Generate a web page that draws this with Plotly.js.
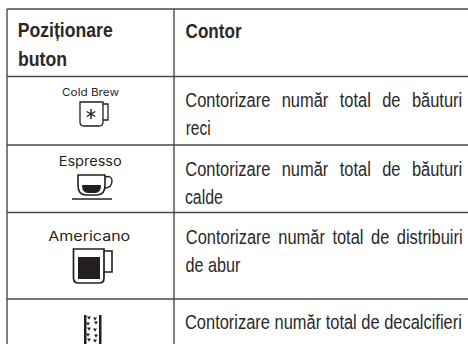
<!DOCTYPE html>
<html><head><meta charset="utf-8">
<script src="https://cdn.plot.ly/plotly-3.0.1.min.js"></script>
<style>html,body{margin:0;padding:0;background:#fff}#c{width:468px;height:344px}</style></head>
<body><div id="c"></div>
<script>
var headerLeft = ["Poziționare", "buton"];
var headerRight = ["Contor"];
var drinks = ["Cold Brew", "Espresso", "Americano"];
var counters = [
  ["Contorizare număr total de băuturi", "reci"],
  ["Contorizare număr total de băuturi", "calde"],
  ["Contorizare număr total de distribuiri", "de abur"],
  ["Contorizare număr total de decalcifieri"]
];

var INK = "#2a2829", RULE = "#4a4a4a", ICON = "#231f20";
var BODY = "Liberation Sans", LABEL = "Inter";
var rowY = [9, 76.5, 145, 212.5, 299];
var colX = [7, 174];
var ann = [], shapes = [], fits = [];

function text(t, x, w, base, size, font, color, bold, justify) {
  fits.push({w: w, justify: !!justify});
  ann.push({xref: "x", yref: "y", x: x + w / 2, y: base, text: bold ? "<b>" + t + "</b>" : t,
    showarrow: false, xanchor: "center", yanchor: "bottom", borderpad: 0,
    font: {family: font, size: size, color: color}, yshift: -Math.round(size * 0.22)});
}
function line(x0, y0, x1, y1) {
  shapes.push({type: "line", xref: "x", yref: "y", x0: x0, y0: y0, x1: x1, y1: y1,
    line: {color: RULE, width: 1.4}});
}
function path(d, fill, lw) {
  shapes.push({type: "path", xref: "x", yref: "y", path: d,
    fillcolor: fill || "rgba(0,0,0,0)", line: {color: ICON, width: lw === undefined ? 1.1 : lw}});
}

rowY.forEach(function (y) { line(colX[0], y, 468, y); });
colX.forEach(function (x) { line(x, rowY[0], x, 344); });

text(headerLeft[0], 18, 95, 37.5, 20.5, BODY, INK, true);
text(headerLeft[1], 18, 49, 65.5, 20.5, BODY, INK, true);
text(headerRight[0], 185, 56, 37.5, 20.5, BODY, INK, true);

var baselines = [[108, 136], [177, 205], [244.5, 272.5], [330]];
var widths = [[277, 25], [277, 38], [277, 55], [277]];
counters.forEach(function (r, i) {
  r.forEach(function (t, j) {
    text(t, 185, widths[i][j], baselines[i][j], 20, BODY, INK, false, j === 0);
  });
});

text(drinks[0], 62, 57, 98, 10.5, LABEL, ICON);
text(drinks[1], 59, 63, 167, 13, LABEL, ICON);
text(drinks[2], 48, 82, 242, 13, LABEL, ICON);

// Cold Brew mug
path("M80,102 H103 V122 Q103,126 99,126 H84 Q80,126 80,122 Z", null, 1.3);
path("M103,104 H108 V120 H103", null, 1.3);
path("M91,109 V119 M86.7,111.5 L95.3,116.5 M95.3,111.5 L86.7,116.5", null, 1.4);
// Espresso cup
path("M78,175 H105 V185 Q105,195 97,195 H86 Q78,195 78,185 Z", null, 1.6);
path("M105,177 Q112,175 112,181 Q112,188 104,188", null, 1.4);
path("M82,185 H101 Q101,193 95,193 H88 Q82,193 82,185 Z", ICON, 0);
path("M72,199 H112", null, 1.6);
// Americano mug
path("M73.5,249 H104 V278 Q104,283 99,283 H78.5 Q73.5,283 73.5,278 Z", null, 1.7);
path("M104,251 H112 V272 H104", null, 1.6);
path("M78,257 H100 V279 H78 Z", ICON, 0);
// Descale column
path("M84,315 H86.5 V344 H84 Z", ICON, 0);
path("M99,315 H101.5 V344 H99 Z", ICON, 0);
[[89,318],[95,319],[88,324],[96,323],[89,329],[95,330],[88,335],[96,336],[89,340],[95,341]].forEach(function (p) {
  path("M" + (p[0] - 2) + "," + (p[1] - 1.6) + " H" + (p[0] + 2) + " L" + p[0] + "," + (p[1] + 1.8) + " Z", ICON, 0);
});

var gd = document.getElementById("c");
Plotly.newPlot(gd, [{x: [0], y: [0], mode: "markers", marker: {opacity: 0}, hoverinfo: "skip", showlegend: false}], {
  width: 468, height: 344, margin: {l: 0, r: 0, t: 0, b: 0},
  paper_bgcolor: "#fff", plot_bgcolor: "#fff",
  xaxis: {range: [0, 468], visible: false, fixedrange: true},
  yaxis: {range: [344, 0], visible: false, fixedrange: true},
  shapes: shapes, annotations: ann, showlegend: false
}, {displayModeBar: false, staticPlot: true}).then(function () {
  var nodes = Array.prototype.slice.call(gd.querySelectorAll(".annotation-text"));
  var scale = 1;
  nodes.forEach(function (n) {
    if (n.textContent === counters[3][0]) scale = fits[nodes.indexOf(n)].w / n.getComputedTextLength();
  });
  nodes.forEach(function (n, i) {
    var f = fits[i], total = n.getComputedTextLength();
    if (f.justify) {
      var gaps = (n.textContent.match(/ /g) || []).length;
      var extra = (f.w / scale - total) / gaps;
      if (extra > 0.01) { n.style.wordSpacing = extra + "px"; total += extra * gaps; }
    }
    var cx = parseFloat(n.getAttribute("x")) || 0;
    n.setAttribute("transform", "translate(" + cx + ",0) scale(" + (f.w / total) + ",1) translate(" + (-cx) + ",0)");
  });
});
</script></body></html>
